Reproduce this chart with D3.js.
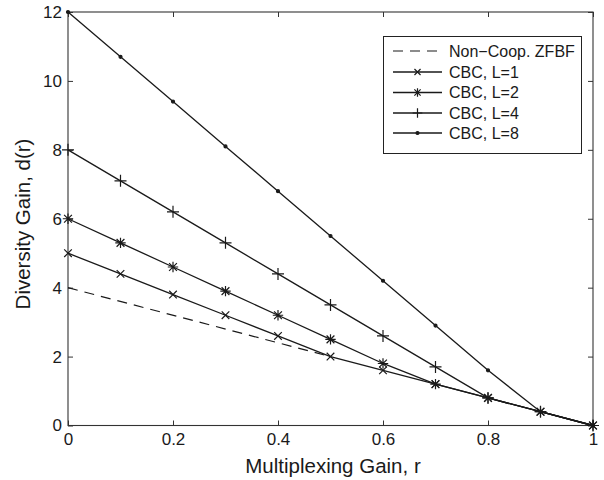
<!DOCTYPE html>
<html>
<head>
<meta charset="utf-8">
<script src="https://cdn.jsdelivr.net/npm/d3@7"></script>
<style>
  html, body { margin: 0; padding: 0; background: #fff; }
  svg { display: block; font-family: "Liberation Sans", Arial, Helvetica, sans-serif; }
</style>
</head>
<body>
<svg id="chart" width="604" height="480"></svg>
<script>
// Diversity-multiplexing trade-off curves
const rValues = [0, 0.1, 0.2, 0.3, 0.4, 0.5, 0.6, 0.7, 0.8, 0.9, 1.0];
const zfbfR = [0, 0.5];
const zfbfD = [4, 2];
const cbcL1 = [5, 4.4, 3.8, 3.2, 2.6, 2.0, 1.6, 1.2, 0.8, 0.4, 0];
const cbcL2 = [6, 5.3, 4.6, 3.9, 3.2, 2.5, 1.8, 1.2, 0.8, 0.4, 0];
const cbcL4 = [8, 7.1, 6.2, 5.3, 4.4, 3.5, 2.6, 1.7, 0.8, 0.4, 0];
const cbcL8 = [12, 10.7, 9.4, 8.1, 6.8, 5.5, 4.2, 2.9, 1.6, 0.4, 0];
const xTicks = [0, 0.2, 0.4, 0.6, 0.8, 1];
const yTicks = [0, 2, 4, 6, 8, 10, 12];
const legendLabels = ["Non\u2212Coop. ZFBF", "CBC, L=1", "CBC, L=2", "CBC, L=4", "CBC, L=8"];

const svg = d3.select("#chart");
const m = { left: 68, right: 593, top: 12, bottom: 425.5 };
const x = d3.scaleLinear().domain([0, 1]).range([m.left, m.right]);
const y = d3.scaleLinear().domain([0, 12]).range([m.bottom, m.top]);
const ink = "#1a1a1a";

// Frame
svg.append("rect")
  .attr("x", m.left).attr("y", m.top)
  .attr("width", m.right - m.left).attr("height", m.bottom - m.top)
  .attr("fill", "none").attr("stroke", "#333").attr("stroke-width", 1.1);

// Axes with inward ticks (left / bottom) and mirrored ticks (right / top)
const tickLen = 5;
const xAxis = svg.append("g").attr("transform", `translate(0,${m.bottom})`)
  .call(d3.axisBottom(x).tickValues(xTicks).tickSizeInner(-tickLen).tickSizeOuter(0).tickPadding(7)
    .tickFormat(d => d3.format("")(d)));
const yAxis = svg.append("g").attr("transform", `translate(${m.left},0)`)
  .call(d3.axisLeft(y).tickValues(yTicks).tickSizeInner(-tickLen).tickSizeOuter(0).tickPadding(6));
svg.append("g").attr("transform", `translate(0,${m.top})`)
  .call(d3.axisTop(x).tickValues(xTicks).tickSizeInner(-tickLen).tickSizeOuter(0).tickFormat(""));
svg.append("g").attr("transform", `translate(${m.right},0)`)
  .call(d3.axisRight(y).tickValues(yTicks).tickSizeInner(-tickLen).tickSizeOuter(0).tickFormat(""));
svg.selectAll(".domain").remove();
svg.selectAll(".tick line").attr("stroke", "#333");
svg.selectAll(".tick text").attr("fill", ink)
  .attr("font-size", 17).attr("font-family", "Liberation Sans, Arial, sans-serif");
xAxis.selectAll(".tick text").attr("dy", "0.71em");

// Axis titles
svg.append("text")
  .attr("x", 333).attr("y", 473)
  .attr("text-anchor", "middle").attr("fill", ink).attr("font-size", 20.5)
  .text("Multiplexing Gain, r");
svg.append("text")
  .attr("transform", `translate(30,224) rotate(-90)`)
  .attr("text-anchor", "middle").attr("fill", ink).attr("font-size", 20.5)
  .text("Diversity Gain, d(r)");

// Marker drawing helpers
const markers = {
  x: (g, s) => g.append("path").attr("d", `M${-s},${-s}L${s},${s}M${-s},${s}L${s},${-s}`),
  star: (g, s) => g.append("path").attr("d",
    `M${-s},0L${s},0M0,${-s}L0,${s}M${-s * 0.75},${-s * 0.75}L${s * 0.75},${s * 0.75}M${-s * 0.75},${s * 0.75}L${s * 0.75},${-s * 0.75}`),
  plus: (g, s) => g.append("path").attr("d", `M${-s},0L${s},0M0,${-s}L0,${s}`),
  dot: (g, s) => g.append("circle").attr("r", 1.5).attr("fill", ink)
};

const line = d3.line().x(d => x(d[0])).y(d => y(d[1]));

const series = [
  { vals: cbcL1, marker: "x", size: 3.8 },
  { vals: cbcL2, marker: "star", size: 5.2 },
  { vals: cbcL4, marker: "plus", size: 6 },
  { vals: cbcL8, marker: "dot", size: 2 }
];

// Non-cooperative ZFBF dashed line
svg.append("path")
  .datum(zfbfR.map((r, i) => [r, zfbfD[i]]))
  .attr("d", line).attr("fill", "none").attr("stroke", ink)
  .attr("stroke-width", 1.2).attr("stroke-dasharray", "10,7");

series.forEach(s => {
  const pts = rValues.map((r, i) => [r, s.vals[i]]);
  svg.append("path").datum(pts).attr("d", line)
    .attr("fill", "none").attr("stroke", ink).attr("stroke-width", 1.3);
  pts.forEach(p => {
    const g = svg.append("g").attr("transform", `translate(${x(p[0])},${y(p[1])})`)
      .attr("stroke", ink).attr("stroke-width", 1.2).attr("fill", "none");
    markers[s.marker](g, s.size);
  });
});

// Legend
const lg = svg.append("g");
lg.append("rect").attr("x", 383.5).attr("y", 36.5).attr("width", 198).attr("height", 117)
  .attr("fill", "#fff").attr("stroke", "#222").attr("stroke-width", 1);
const rowY = [51, 72, 92.5, 113, 133];
legendLabels.forEach((lab, i) => {
  const yy = rowY[i];
  const l = lg.append("line").attr("x1", 393).attr("x2", 442).attr("y1", yy).attr("y2", yy)
    .attr("stroke", ink).attr("stroke-width", i === 0 ? 1.2 : 1.3);
  if (i === 0) l.attr("stroke-dasharray", "10,7");
  else {
    const s = series[i - 1];
    const g = lg.append("g").attr("transform", `translate(417.5,${yy})`)
      .attr("stroke", ink).attr("stroke-width", 1.2).attr("fill", "none");
    markers[s.marker](g, s.size * 0.8);
  }
  lg.append("text").attr("x", 449).attr("y", yy).attr("dy", "0.36em")
    .attr("fill", ink).attr("font-size", 16).text(lab);
});
</script>
</body>
</html>
